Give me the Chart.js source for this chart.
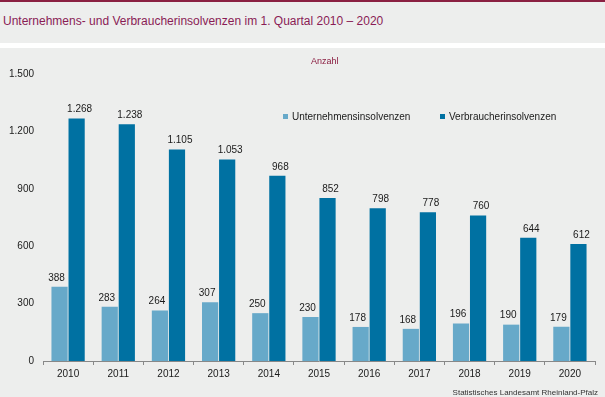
<!DOCTYPE html>
<html>
<head>
<meta charset="utf-8">
<script src="https://cdn.jsdelivr.net/npm/chart.js@4/dist/chart.umd.min.js"></script>
<style>
  html, body { margin:0; padding:0; background:#ffffff; }
  body { width:605px; height:397px; position:relative; overflow:hidden; font-family:"Liberation Sans", Arial, sans-serif; }
  #topbar { position:absolute; left:0; top:0; width:605px; height:2px; background:#8B2042; }
  #titleband { position:absolute; left:0; top:2px; width:605px; height:41px; background:#EDEEED; }
  #title { position:absolute; left:3px; top:12px; font-size:12px; color:#8A1C55; white-space:nowrap; }
  #panel { position:absolute; left:0; top:48px; width:605px; height:349px; background:#EDEEED; }
  #unit { position:absolute; left:311px; top:56px; font-size:9px; color:#8A1C40; }
  #source { position:absolute; right:7px; top:388px; font-size:8px; color:#333; white-space:nowrap; }
  #wrap { position:absolute; left:0; top:48px; width:605px; height:349px; }
</style>
</head>
<body>
<div id="topbar"></div>
<div id="titleband"><div id="title">Unternehmens- und Verbraucherinsolvenzen im 1. Quartal 2010 – 2020</div></div>
<div id="panel"></div>
<div id="wrap"><canvas id="c" width="605" height="349"></canvas></div>
<div id="unit">Anzahl</div>
<div id="source">Statistisches Landesamt Rheinland-Pfalz</div>
<script>
const years = ["2010","2011","2012","2013","2014","2015","2016","2017","2018","2019","2020"];
const unternehmen = [388, 283, 264, 307, 250, 230, 178, 168, 196, 190, 179];
const verbraucher = [1268, 1238, 1105, 1053, 968, 852, 798, 778, 760, 644, 612];
const seriesLabels = ["Unternehmensinsolvenzen", "Verbraucherinsolvenzen"];
const yTicks = [0, 300, 600, 900, 1200, 1500];

const colLight = "#67A9C9";
const colDark = "#0071A2";
const fontFam = "'Liberation Sans', Arial, sans-serif";

function fmt(v) {
  return String(v).replace(/\B(?=(\d{3})+(?!\d))/g, ".");
}

const valueLabels = {
  id: "valueLabels",
  afterDatasetsDraw(chart) {
    const ctx = chart.ctx;
    ctx.save();
    ctx.font = "10px " + fontFam;
    ctx.fillStyle = "#1a1a1a";
    ctx.textAlign = "center";
    ctx.textBaseline = "bottom";
    chart.data.datasets.forEach((ds, di) => {
      const meta = chart.getDatasetMeta(di);
      meta.data.forEach((bar, i) => {
        const dx = di === 0 ? -3 : 3;
        ctx.fillText(fmt(ds.data[i]), bar.x + dx, bar.y - 4);
      });
    });
    ctx.restore();
  }
};

const customLegend = {
  id: "customLegend",
  afterDraw(chart) {
    const ctx = chart.ctx;
    ctx.save();
    ctx.font = "10px " + fontFam;
    ctx.textBaseline = "middle";
    ctx.textAlign = "left";
    const pos = [283, 440];
    const y = 69;
    chart.data.datasets.forEach((ds, di) => {
      ctx.fillStyle = ds.backgroundColor;
      ctx.fillRect(pos[di], y - 3, 5, 5);
      ctx.fillStyle = "#1a1a1a";
      ctx.fillText(ds.label, pos[di] + 9, y);
    });
    ctx.restore();
  }
};

new Chart(document.getElementById("c"), {
  type: "bar",
  data: {
    labels: years,
    datasets: [
      { label: seriesLabels[0], data: unternehmen, backgroundColor: colLight, categoryPercentage: 0.68, barPercentage: 0.95 },
      { label: seriesLabels[1], data: verbraucher, backgroundColor: colDark, categoryPercentage: 0.68, barPercentage: 0.95 }
    ]
  },
  options: {
    responsive: false,
    animation: false,
    devicePixelRatio: 1,
    layout: { padding: { left: 0, right: 10, top: 26, bottom: 0 } },
    plugins: {
      legend: { display: false },
      tooltip: { enabled: false },
      title: { display: false }
    },
    scales: {
      x: {
        grid: { display: true, drawOnChartArea: false, drawTicks: true, tickLength: 4, color: "#888888", offset: true },
        border: { display: true, color: "#888888", width: 1 },
        ticks: { color: "#1a1a1a", font: { size: 10, family: fontFam }, padding: 3, maxRotation: 0 },
        afterFit(s) { s.height = 36; }
      },
      y: {
        min: 0, max: 1500,
        afterBuildTicks(s) { s.ticks = yTicks.map(v => ({ value: v })); },
        grid: { display: false, drawTicks: false },
        border: { display: false },
        ticks: { color: "#1a1a1a", font: { size: 10, family: fontFam }, padding: 9, callback: v => fmt(v) },
        afterFit(s) { s.width = 43; }
      }
    }
  },
  plugins: [valueLabels, customLegend]
});
</script>
</body>
</html>
